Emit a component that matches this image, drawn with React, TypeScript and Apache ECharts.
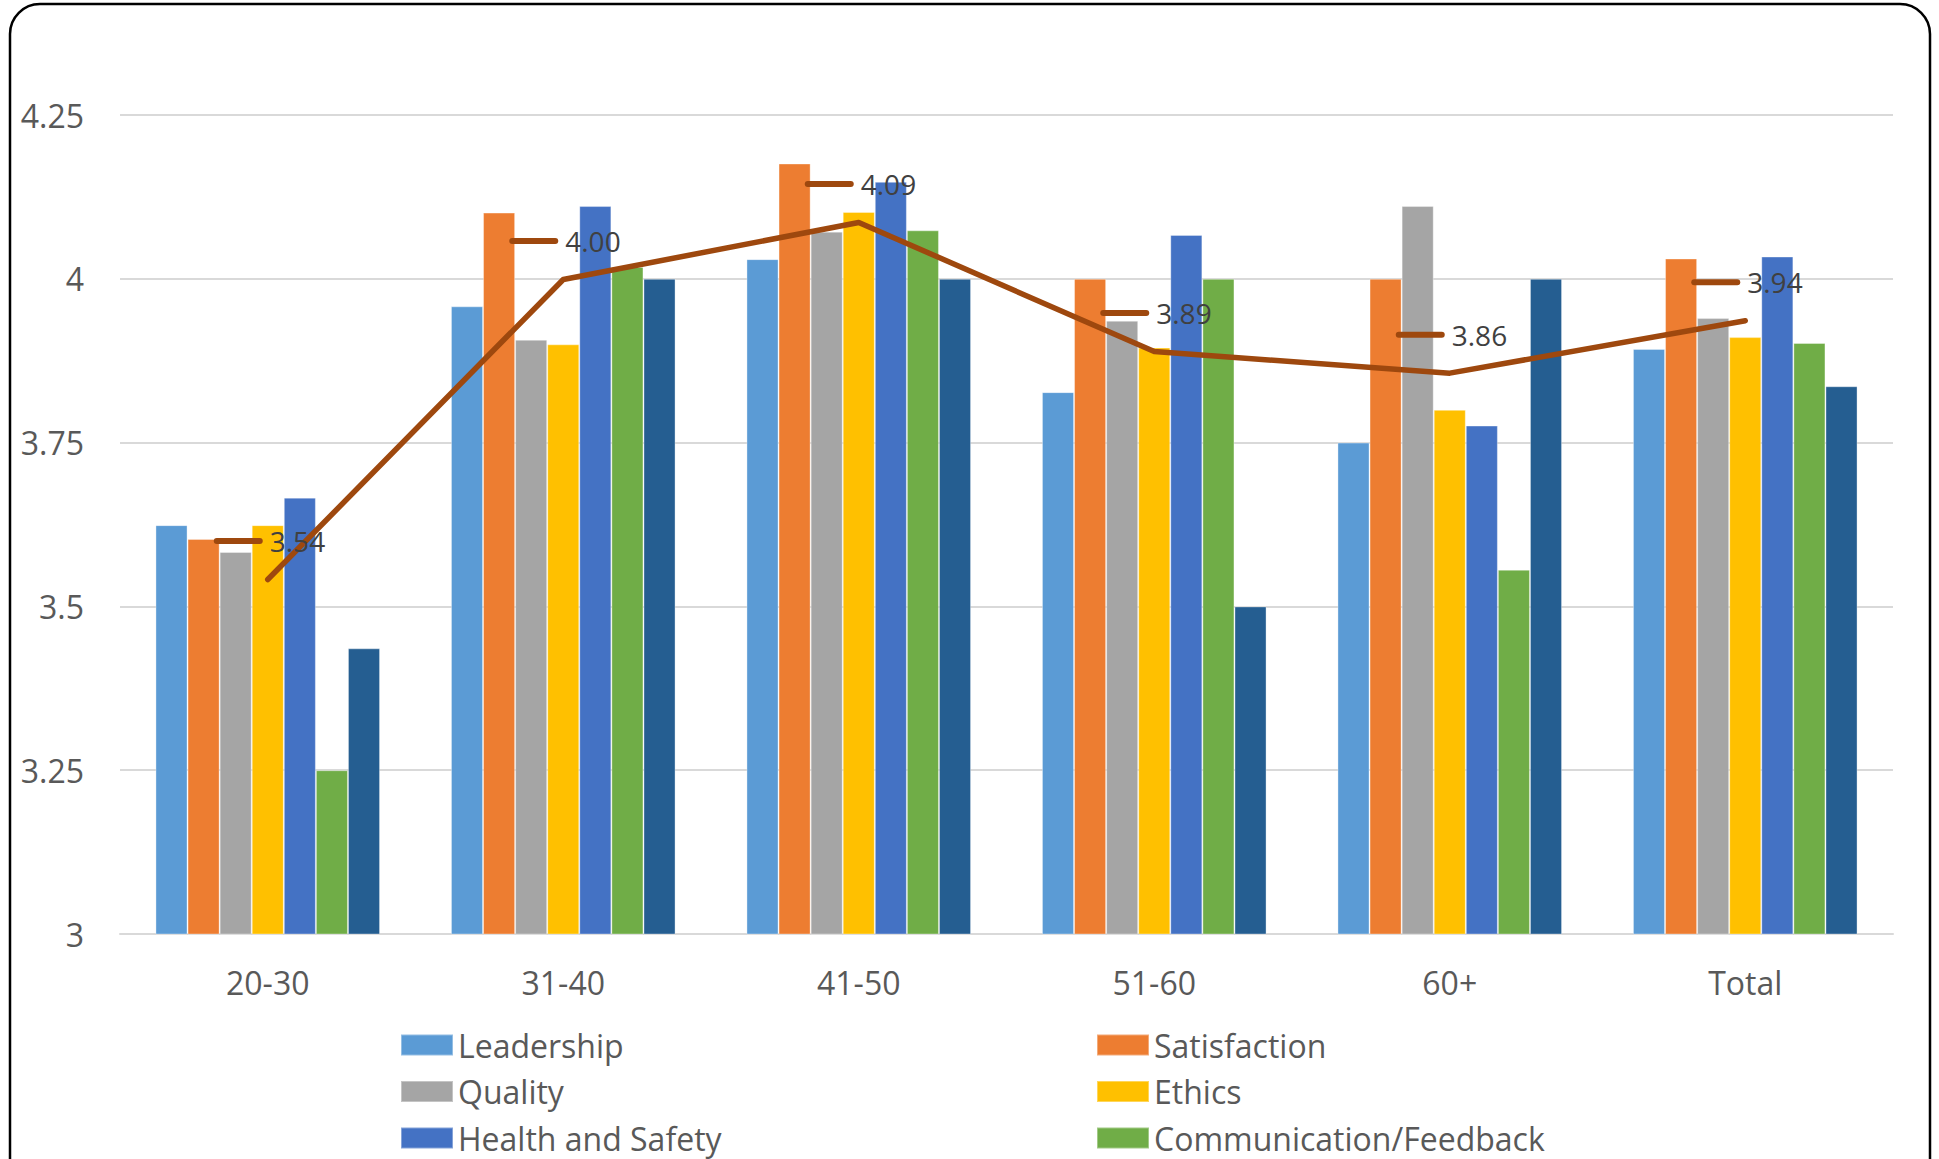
import React, { useEffect, useRef } from "react";
import * as echarts from "echarts";

const categories = ["20-30", "31-40", "41-50", "51-60", "60+", "Total"];

const leadership = [3.624, 3.958, 4.03, 3.827, 3.75, 3.893];
const satisfaction = [3.603, 4.101, 4.176, 4.0, 4.0, 4.031];
const quality = [3.583, 3.907, 4.072, 3.936, 4.111, 3.94];
const ethics = [3.624, 3.9, 4.102, 3.895, 3.8, 3.911];
const healthSafety = [3.666, 4.111, 4.148, 4.067, 3.776, 4.034];
const communication = [3.25, 4.018, 4.074, 4.0, 3.556, 3.902];
const teamwork = [3.436, 4.0, 4.0, 3.5, 4.0, 3.836];
const average = [3.541, 3.999, 4.086, 3.889, 3.856, 3.936];

const yTicks = { min: 3, max: 4.25, interval: 0.25 };

const barSeries = [
  { name: "Leadership", data: leadership, color: "#5B9BD5" },
  { name: "Satisfaction", data: satisfaction, color: "#ED7D31" },
  { name: "Quality", data: quality, color: "#A5A5A5" },
  { name: "Ethics", data: ethics, color: "#FFC000" },
  { name: "Health and Safety", data: healthSafety, color: "#4472C4" },
  { name: "Communication/Feedback", data: communication, color: "#70AD47" },
  { name: "Teamwork", data: teamwork, color: "#255E91" },
];

const FONT = "'Open Sans', 'Segoe UI', sans-serif";
const LINE_COLOR = "#9E480E";
const CHART_H = 1320;

export default function App() {
  const ref = useRef<HTMLDivElement>(null);

  useEffect(() => {
    if (!ref.current) return;
    const chart = echarts.init(ref.current, null, { renderer: "svg" });

    const legendBase = {
      orient: "vertical",
      top: 1029,
      padding: 0,
      icon: "rect",
      itemWidth: 52,
      itemHeight: 21,
      itemGap: 14.5,
      textStyle: { fontFamily: FONT, fontSize: 32, color: "#595959" },
      selectedMode: false,
    };

    const option: any = {
      animation: false,
      backgroundColor: "#ffffff",
      textStyle: { fontFamily: FONT },
      grid: { left: 120, right: 46, top: 115, bottom: CHART_H - 934, containLabel: false },
      legend: [
        { ...legendBase, left: 400, data: ["Leadership", "Quality", "Health and Safety"] },
        { ...legendBase, left: 1096, data: ["Satisfaction", "Ethics", "Communication/Feedback"] },
      ],
      xAxis: {
        type: "category",
        data: categories,
        axisTick: { show: false },
        axisLine: { lineStyle: { color: "#D9D9D9", width: 2 } },
        axisLabel: { fontFamily: FONT, fontSize: 32, color: "#595959", margin: 32 },
      },
      yAxis: {
        type: "value",
        min: yTicks.min,
        max: yTicks.max,
        interval: yTicks.interval,
        axisLine: { show: false },
        axisTick: { show: false },
        splitLine: { lineStyle: { color: "#D9D9D9", width: 2 } },
        axisLabel: { fontFamily: FONT, fontSize: 32, color: "#595959", margin: 36 },
      },
      graphic: [
        {
          type: "rect",
          shape: { x: 10, y: 4, width: 1920, height: 1400, r: 30 },
          style: { fill: "none", stroke: "#000000", lineWidth: 2.5 },
          silent: true,
          z: 100,
        },
      ],
      series: [
        ...barSeries.map((s) => ({
          name: s.name,
          type: "bar",
          data: s.data,
          barGap: "0%",
          barCategoryGap: "24%",
          itemStyle: { color: s.color, borderColor: "rgba(255,255,255,0.35)", borderWidth: 1 },
          emphasis: { disabled: true },
        })),
        {
          name: "Average",
          type: "line",
          data: average,
          z: 10,
          symbol: "circle",
          symbolSize: 1,
          showSymbol: true,
          itemStyle: { color: LINE_COLOR },
          lineStyle: { color: LINE_COLOR, width: 5.5, cap: "round", join: "round" },
          emphasis: { disabled: true },
          label: {
            show: true,
            position: "inside",
            align: "left",
            verticalAlign: "middle",
            offset: [-54, -38.5],
            formatter: (p: any) => `{k|}{v|${Number(p.value).toFixed(2)}}`,
            rich: {
              k: {
                width: 49,
                height: 6,
                backgroundColor: LINE_COLOR,
                borderRadius: 3,
                verticalAlign: "middle",
              },
              v: {
                fontFamily: FONT,
                fontSize: 28,
                color: "#404040",
                padding: [0, 0, 0, 7],
                verticalAlign: "middle",
              },
            },
          },
        },
      ],
    };

    chart.setOption(option);
    return () => chart.dispose();
  }, []);

  return (
    <div
      style={{ position: "fixed", left: 0, top: 0, width: 1939, height: 1159, overflow: "hidden", background: "#fff" }}
    >
      <div ref={ref} style={{ width: 1939, height: CHART_H }} />
    </div>
  );
}
